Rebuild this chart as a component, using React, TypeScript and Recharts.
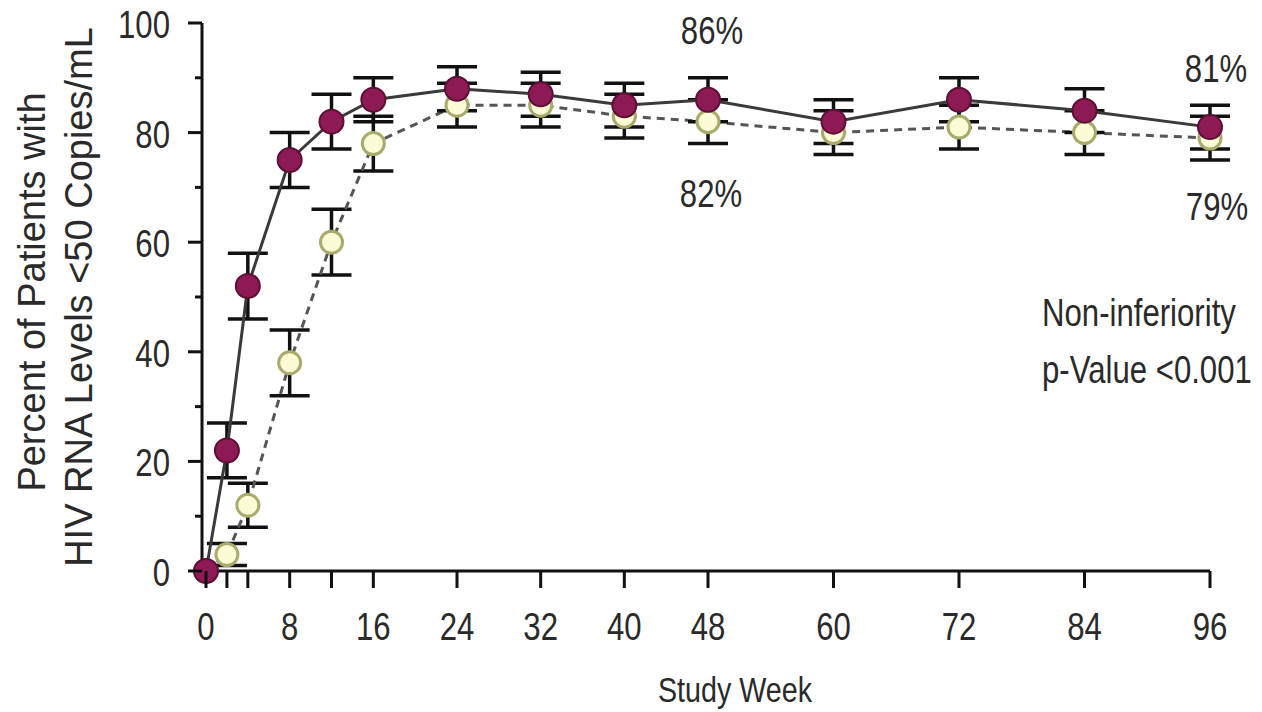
import React from "react";
import { LineChart, Line, XAxis, YAxis, ErrorBar } from "recharts";

// study weeks and % of patients with HIV RNA < 50 copies/mL
const weeks = [0, 2, 4, 8, 12, 16, 24, 32, 40, 48, 60, 72, 84, 96];
const filledPct = [0, 22, 52, 75, 82, 86, 88, 87, 85, 86, 82, 86, 84, 81];
const filledErr = [0, 5, 6, 5, 5, 4, 4, 4, 4, 4, 4, 4, 4, 4];
const openPct = [0, 3, 12, 38, 60, 78, 85, 85, 83, 82, 80, 81, 80, 79];
const openErr = [0, 2, 4, 6, 6, 5, 4, 4, 4, 4, 4, 4, 4, 4];

const xTicks = [0, 2, 4, 8, 12, 16, 24, 32, 40, 48, 60, 72, 84, 96];
const xLabelled = [0, 8, 16, 24, 32, 40, 48, 60, 72, 84, 96];
const yTicks = [0, 10, 20, 30, 40, 50, 60, 70, 80, 90, 100];
const yLabelled = [0, 20, 40, 60, 80, 100];

const FONT = "'Liberation Sans', Arial, sans-serif";
const TEXT = "#2a2a2a";
const SQUEEZE = 0.82;

const chartData = weeks.map((w, i) => ({
  week: w,
  filled: filledPct[i],
  filledErr: filledErr[i],
  open: openPct[i],
  openErr: openErr[i],
}));

interface TickProps { x?: number; y?: number; payload?: { value: number }; }

const XTick = ({ x = 0, y = 0, payload }: TickProps) => {
  const v = payload?.value ?? 0;
  return (
    <g>
      <line x1={x} x2={x} y1={y} y2={y + 17} stroke="#111" strokeWidth={3} />
      {xLabelled.includes(v) && (
        <text
          transform={`translate(${x},${y + 69}) scale(${SQUEEZE},1)`}
          textAnchor="middle"
          fontSize={38}
          fontFamily={FONT}
          fill={TEXT}
        >
          {v}
        </text>
      )}
    </g>
  );
};

const YTick = ({ x = 0, y = 0, payload }: TickProps) => {
  const v = payload?.value ?? 0;
  const major = yLabelled.includes(v);
  return (
    <g>
      <line x1={major ? x - 14 : x - 7} x2={x} y1={y} y2={y} stroke="#111" strokeWidth={3} />
      {major && (
        <text
          transform={`translate(${x - 32},${y + 15}) scale(${SQUEEZE},1)`}
          textAnchor="end"
          fontSize={38}
          fontFamily={FONT}
          fill={TEXT}
        >
          {v}
        </text>
      )}
    </g>
  );
};

const Note = ({ x, y, children, anchor = "middle", size = 38 }: { x: number; y: number; children: React.ReactNode; anchor?: string; size?: number }) => (
  <text
    transform={`translate(${x},${y}) scale(${SQUEEZE},1)`}
    textAnchor={anchor}
    fontSize={size}
    fontFamily={FONT}
    fill={TEXT}
  >
    {children}
  </text>
);

export default function App() {
  return (
    <div style={{ position: "absolute", left: 0, top: 0, width: 1262, height: 712, background: "#fff" }}>
      <LineChart
        width={1262}
        height={712}
        data={chartData}
        margin={{ top: 23, right: 52, left: 0, bottom: 0 }}
      >
        <XAxis
          dataKey="week"
          type="number"
          domain={[0, 96]}
          ticks={xTicks}
          interval={0}
          padding={{ left: 4, right: 0 }}
          height={141}
          tickSize={0}
          tickMargin={0}
          tickLine={false}
          tick={<XTick />}
          axisLine={{ stroke: "#111", strokeWidth: 3 }}
        />
        <YAxis
          type="number"
          domain={[0, 100]}
          ticks={yTicks}
          interval={0}
          width={202}
          tickSize={0}
          tickMargin={0}
          tickLine={false}
          tick={<YTick />}
          axisLine={{ stroke: "#111", strokeWidth: 3 }}
        />
        <Line
          dataKey="open"
          stroke="#555"
          strokeWidth={3}
          strokeDasharray="8 6"
          dot={{ r: 11, fill: "#fbfbd6", stroke: "#a9aa6c", strokeWidth: 3, strokeDasharray: "none" }}
          isAnimationActive={false}
        >
          <ErrorBar dataKey="openErr" width={20} stroke="#111" strokeWidth={3.5} direction="y" />
        </Line>
        <Line
          dataKey="filled"
          stroke="#3a3a3a"
          strokeWidth={3}
          dot={{ r: 12, fill: "#8e1a55", stroke: "#5c1034", strokeWidth: 2 }}
          isAnimationActive={false}
        >
          <ErrorBar dataKey="filledErr" width={20} stroke="#111" strokeWidth={3.5} direction="y" />
        </Line>
      </LineChart>
      <svg
        width={1262}
        height={712}
        style={{ position: "absolute", left: 0, top: 0, pointerEvents: "none" }}
      >
        <text transform="translate(45,292) rotate(-90)" textAnchor="middle" fontSize={38} fontFamily={FONT} fill={TEXT}>
          Percent of Patients with
        </text>
        <text transform="translate(92,297) rotate(-90)" textAnchor="middle" fontSize={38} fontFamily={FONT} fill={TEXT}>
          HIV RNA Levels &lt;50 Copies/mL
        </text>
        <Note x={712} y={44}>86%</Note>
        <Note x={711} y={207}>82%</Note>
        <Note x={1216} y={82}>81%</Note>
        <Note x={1217} y={220}>79%</Note>
        <Note x={1042} y={326} anchor="start">Non-inferiority</Note>
        <Note x={1042} y={383} anchor="start">p-Value &lt;0.001</Note>
        <Note x={735} y={702} size={35}>Study Week</Note>
      </svg>
    </div>
  );
}
